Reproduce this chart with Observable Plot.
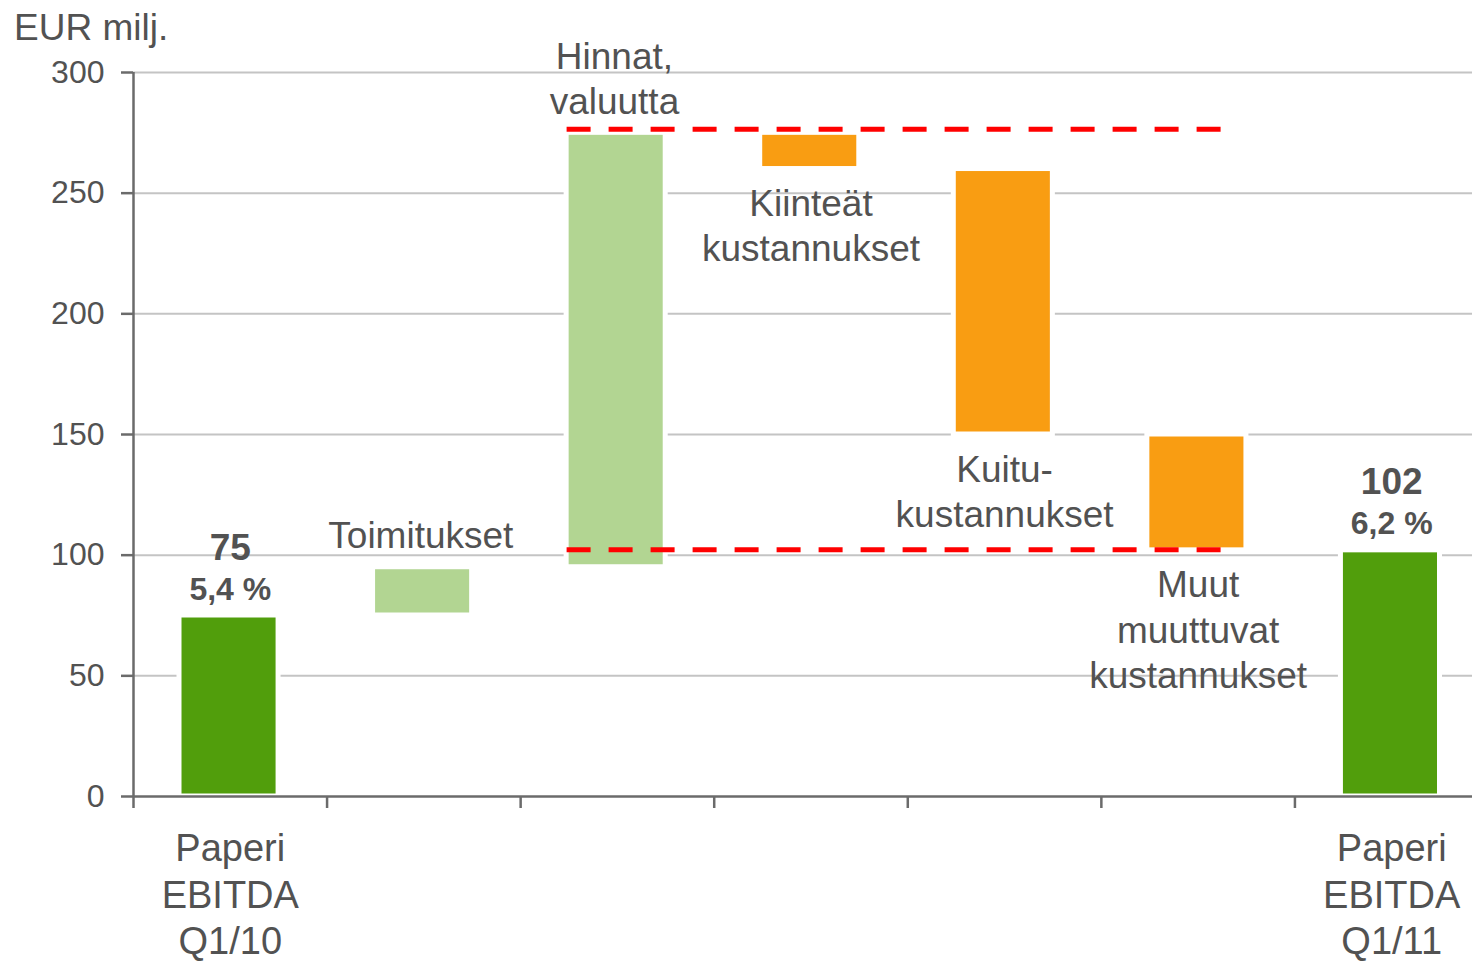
<!DOCTYPE html>
<html><head><meta charset="utf-8">
<script src="https://cdn.jsdelivr.net/npm/d3@7"></script>
<script src="https://cdn.jsdelivr.net/npm/@observablehq/plot@0.6"></script>
<style>
body{margin:0;background:#fff;}
#wrap{position:relative;width:1472px;height:963px;font-family:"Liberation Sans",Arial,sans-serif;}
#title{position:absolute;left:14px;top:9px;font-size:37px;line-height:37px;color:#525252;}
#chart{position:absolute;left:0;top:0;}
</style></head><body>
<div id="wrap"><div id="chart"></div><div id="title">EUR milj.</div></div>
<script>
// ---- data ----
const categories = [
  "Paperi\nEBITDA\nQ1/10",
  "Toimitukset",
  "Hinnat,\nvaluutta",
  "Kiinteät\nkustannukset",
  "Kuitu-\nkustannukset",
  "Muut\nmuuttuvat\nkustannukset",
  "Paperi\nEBITDA\nQ1/11"
];
const kinds = ["total", "up", "up", "down", "down", "down", "total"];
const values = [75, 20, 180, -15, -110, -48, 102];
const totalLabels = ["75", "102"];
const marginLabels = ["5,4 %", "6,2 %"];
const yTicks = [0, 50, 100, 150, 200, 250, 300];
const refLevels = [276.5, 102.2];
const refStart = 2.24;   // in category units
const refEnd = 5.62;

// ---- build waterfall table ----
let running = 0;
const steps = categories.map((name, i) => {
  let start, end;
  if (kinds[i] === "total") { start = 0; end = values[i]; running = values[i]; }
  else { start = running; end = running + values[i]; running = end; }
  return {name, kind: kinds[i], i0: i, i1: i + 1, mid: i + 0.5, start, end,
          lo: Math.min(start, end), hi: Math.max(start, end)};
});
const totals = steps.filter(d => d.kind === "total");
const ups = steps.filter(d => d.kind === "up");
const downs = steps.filter(d => d.kind === "down");
const refs = refLevels.map(y => ({y, x1: refStart, x2: refEnd}));

const colors = {total: "#519e0c", up: "#b2d592", down: "#f99d12"};
const textColor = "#525252";
const axisColor = "#6b6b6b";

const chart = Plot.plot({
  width: 1472,
  height: 963,
  marginTop: 72,
  marginBottom: 167,
  marginLeft: 133,
  marginRight: 0,
  style: {fontFamily: "Liberation Sans, Arial, sans-serif", color: textColor, background: "white"},
  x: {type: "linear", domain: [0, 7], range: [133, 1488], axis: null},
  y: {domain: [0, 300], axis: null},
  marks: [
    Plot.gridY(yTicks.filter(d => d > 0), {stroke: "#c4c4c4", strokeOpacity: 1, strokeWidth: 2}),
    Plot.rectY(steps, {
      x1: "i0", x2: "i1", y1: "start", y2: "end",
      fill: d => colors[d.kind],
      stroke: "white", strokeWidth: 5,
      insetLeft: 46, insetRight: 48.5
    }),
    Plot.ruleY(refs, {y: "y", x1: "x1", x2: "x2", stroke: "#ff0000", strokeWidth: 5, strokeDasharray: "24,18"}),
    Plot.ruleY([0], {stroke: axisColor, strokeWidth: 2.5}),
    Plot.ruleX([0], {stroke: axisColor, strokeWidth: 2.5}),
    Plot.axisY({ticks: yTicks, tickSize: 12, tickPadding: 17, fontSize: 32, stroke: axisColor, strokeWidth: 2.5, fill: textColor, label: null}),
    Plot.axisX({ticks: d3.range(0, 8), tickSize: 12, tickFormat: () => "", stroke: axisColor, strokeWidth: 2.5, label: null}),
    // category labels for floating bars
    Plot.text(ups, {x: "mid", y: "hi", text: "name", lineAnchor: "bottom", lineHeight: 1.22, fontSize: 37, fill: textColor, dx: -3, dy: -19}),
    Plot.text(downs, {x: "mid", y: "lo", text: "name", lineAnchor: "top", lineHeight: 1.22, fontSize: 37, fill: textColor, dy: 15}),
    // x labels for totals
    Plot.text(totals, {x: "mid", y: 0, text: "name", lineAnchor: "top", lineHeight: 1.22, fontSize: 38, fill: textColor, dy: 32}),
    // value labels
    Plot.text(totals, {x: "mid", y: "end", text: totalLabels, lineAnchor: "bottom", fontSize: 37, fontWeight: "bold", fill: textColor, dy: -56}),
    Plot.text(totals, {x: "mid", y: "end", text: marginLabels, lineAnchor: "bottom", fontSize: 32, fontWeight: "bold", fill: textColor, dy: -16})
  ]
});
document.getElementById("chart").appendChild(chart);
</script>
</body></html>
